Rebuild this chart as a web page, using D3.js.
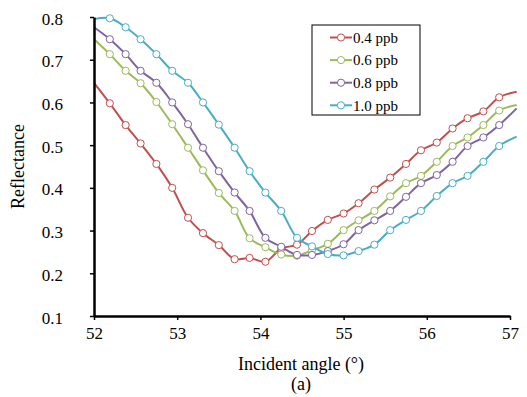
<!DOCTYPE html>
<html>
<head>
<meta charset="utf-8">
<script src="https://cdn.jsdelivr.net/npm/d3@7"></script>
<style>
  body { margin: 0; background: white; }
  svg text { font-family: "Liberation Serif", "Times New Roman", serif; }
</style>
</head>
<body>
<div id="container"></div>
<script>
// angles (deg); first and last are only where the line meets the plot edges
let angles = [52.00, 52.19, 52.38, 52.56, 52.75, 52.94, 53.13, 53.31, 53.50, 53.69, 53.87,
  54.06, 54.25, 54.44, 54.62, 54.81, 55.00, 55.18, 55.37, 55.56, 55.75, 55.93,
  56.12, 56.31, 56.49, 56.68, 56.87, 57.08];

let ppb04 = [0.646, 0.598, 0.547, 0.504, 0.456, 0.400, 0.330, 0.294, 0.266, 0.233, 0.236,
  0.227, 0.258, 0.267, 0.299, 0.325, 0.340, 0.364, 0.396, 0.424, 0.456, 0.488,
  0.506, 0.539, 0.563, 0.579, 0.612, 0.625];
let ppb06 = [0.748, 0.713, 0.674, 0.645, 0.601, 0.549, 0.494, 0.441, 0.388, 0.346, 0.282,
  0.261, 0.244, 0.241, 0.254, 0.269, 0.301, 0.324, 0.346, 0.380, 0.411, 0.428,
  0.461, 0.498, 0.518, 0.547, 0.581, 0.594];
let ppb08 = [0.776, 0.748, 0.713, 0.674, 0.646, 0.600, 0.549, 0.494, 0.439, 0.389, 0.346,
  0.283, 0.262, 0.243, 0.243, 0.252, 0.268, 0.301, 0.324, 0.346, 0.379, 0.411,
  0.430, 0.461, 0.498, 0.518, 0.547, 0.586];
let ppb10 = [0.795, 0.797, 0.776, 0.748, 0.713, 0.674, 0.646, 0.600, 0.548, 0.494, 0.439,
  0.389, 0.346, 0.283, 0.263, 0.245, 0.242, 0.252, 0.267, 0.301, 0.325, 0.346,
  0.381, 0.411, 0.428, 0.461, 0.498, 0.520];

let seriesNames = ["0.4 ppb", "0.6 ppb", "0.8 ppb", "1.0 ppb"];
let seriesColors = ["#C0504D", "#9BBB59", "#8064A2", "#4BACC6"];
let xTicks = [52, 53, 54, 55, 56, 57];
let yTicks = [0.1, 0.2, 0.3, 0.4, 0.5, 0.6, 0.7, 0.8];

let w = 527;
let h = 397;
let plotLeft = 94, plotRight = 510, plotTop = 17, plotBottom = 316;

let viz = d3.select("#container")
  .append("svg")
    .attr("width", w)
    .attr("height", h)
;

let xScale = d3.scaleLinear().domain([52, 57]).range([plotLeft, plotRight]);
let yScale = d3.scaleLinear().domain([0.1, 0.8]).range([plotBottom, plotTop]);

let data = [ppb04, ppb06, ppb08, ppb10].map(function(vals, s){
  return vals.map(function(v, i){
    return { name: seriesNames[s], x: angles[i], y: v };
  });
});

let lineMaker = d3.line()
  .x(function(d){ return xScale(d.x); })
  .y(function(d){ return yScale(d.y); })
  .curve(d3.curveCatmullRom)
;

let graphGroup = viz.append("g").attr("class", "graphGroup");

data.forEach(function(series, s){
  graphGroup.append("path")
    .datum(series)
    .attr("d", lineMaker)
    .attr("fill", "none")
    .attr("stroke", seriesColors[s])
    .attr("stroke-width", 2)
  ;
  graphGroup.selectAll(".dot" + s)
    .data(series.filter(function(d){ return d.x > 52 && d.x < 57; }))
    .enter()
    .append("circle")
      .attr("class", "dot" + s)
      .attr("cx", function(d){ return xScale(d.x); })
      .attr("cy", function(d){ return yScale(d.y); })
      .attr("r", 3.6)
      .attr("fill", "white")
      .attr("stroke", seriesColors[s])
      .attr("stroke-width", 1)
  ;
});

// axes
let xAxis = d3.axisBottom(xScale).tickValues(xTicks).tickSize(4).tickSizeOuter(0).tickFormat(d3.format("d"));
let xAxisGroup = viz.append("g")
    .attr("class", "xaxisgroup")
    .attr("transform", "translate(0," + plotBottom + ")")
    .call(xAxis)
    .attr("font-family", "Liberation Serif")
    .attr("font-size", 17)
;
let yAxis = d3.axisLeft(yScale).tickValues(yTicks).tickSize(4).tickSizeOuter(0).tickFormat(d3.format(".1f"));
let yAxisGroup = viz.append("g")
    .attr("class", "yaxisgroup")
    .attr("transform", "translate(" + plotLeft + ",0)")
    .call(yAxis)
    .attr("font-family", "Liberation Serif")
    .attr("font-size", 17)
;
xAxisGroup.select(".domain").attr("stroke", "black").attr("stroke-width", 2.5);
yAxisGroup.select(".domain").attr("stroke", "black").attr("stroke-width", 2.5);
xAxisGroup.selectAll(".tick line").attr("stroke", "black").attr("stroke-width", 1.5);
yAxisGroup.selectAll(".tick line").attr("stroke", "black").attr("stroke-width", 1.5);
xAxisGroup.selectAll(".tick text").attr("fill", "black").attr("dy", "0.95em");
yAxisGroup.selectAll(".tick text").attr("fill", "black")
  .attr("x", -31).attr("text-anchor", "end").attr("dy", "0.42em");

// axis titles
viz.append("text")
  .attr("x", (plotLeft + plotRight) / 2 - 1)
  .attr("y", 370)
  .attr("text-anchor", "middle")
  .attr("font-size", 18)
  .text("Incident angle (°)")
;
viz.append("text")
  .attr("x", (plotLeft + plotRight) / 2 - 1)
  .attr("y", 390)
  .attr("text-anchor", "middle")
  .attr("font-size", 18)
  .text("(a)")
;
viz.append("text")
  .attr("transform", "translate(24," + ((plotTop + plotBottom) / 2) + ") rotate(-90)")
  .attr("text-anchor", "middle")
  .attr("font-size", 18)
  .text("Reflectance")
;

// legend
let legend = viz.append("g").attr("class", "legend");
legend.append("rect")
  .attr("x", 312)
  .attr("y", 25)
  .attr("width", 108)
  .attr("height", 90)
  .attr("fill", "white")
  .attr("stroke", "black")
  .attr("stroke-width", 1)
;
let legendRows = legend.selectAll(".row").data(seriesNames).enter()
  .append("g")
    .attr("class", "row")
    .attr("transform", function(d, i){ return "translate(0," + (37.5 + i * 22.6) + ")"; })
;
legendRows.append("line")
  .attr("x1", 330).attr("x2", 352)
  .attr("stroke", function(d, i){ return seriesColors[i]; })
  .attr("stroke-width", 2)
;
legendRows.append("circle")
  .attr("cx", 341)
  .attr("r", 3.6)
  .attr("fill", "white")
  .attr("stroke", function(d, i){ return seriesColors[i]; })
;
legendRows.append("text")
  .attr("x", 353)
  .attr("dy", "0.35em")
  .attr("font-size", 15)
  .text(function(d){ return d; })
;
</script>
</body>
</html>
